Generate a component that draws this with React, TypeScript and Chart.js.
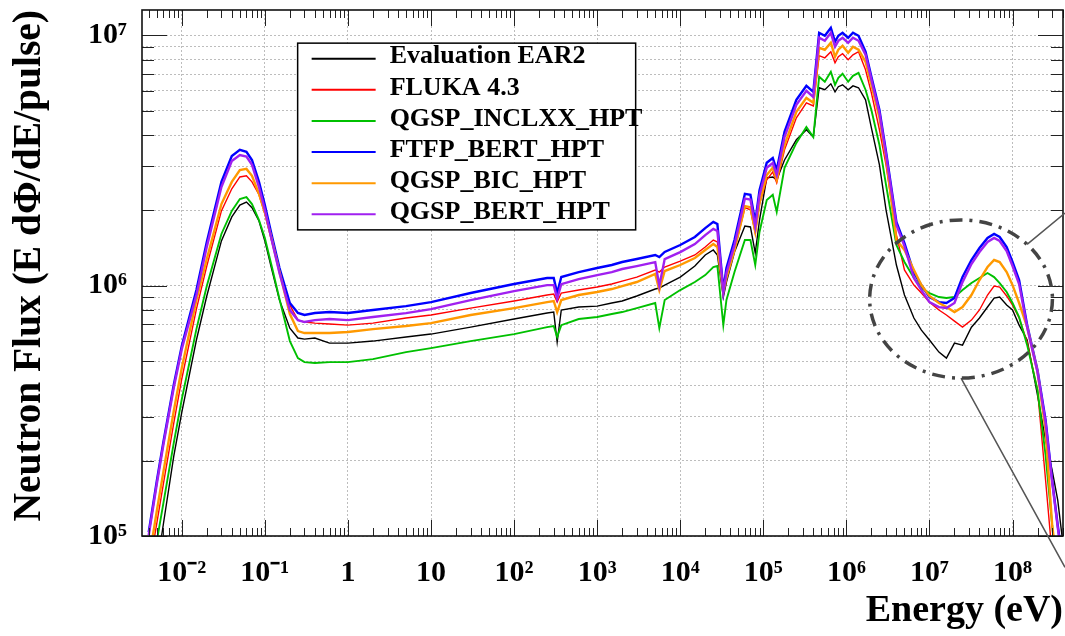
import React, { useEffect, useRef } from "react";
import { Chart, registerables } from "chart.js";

Chart.register(...registerables);

// ---------------- data ----------------
const energy = [
  0.004, 0.005, 0.006, 0.008, 0.01, 0.015, 0.02, 0.03, 0.04, 0.05,
  0.06, 0.07, 0.085, 0.1, 0.12, 0.15, 0.2, 0.25, 0.3, 0.4,
  0.6, 1, 2, 5, 10, 30, 100, 250, 300, 330,
  370, 600, 1000, 1500, 2000, 3000, 5000, 5600, 6500, 1e4,
  1.5e4, 2e4, 2.5e4, 2.8e4, 3.3e4, 3.6e4, 4.5e4, 6e4, 7e4, 8e4,
  9e4, 1.1e5, 1.3e5, 1.45e5, 1.8e5, 2.5e5, 3.3e5, 4.0e5, 4.7e5, 5.5e5,
  6.5e5, 7.3e5, 8e5, 9e5, 1.05e6, 1.2e6, 1.4e6, 1.7e6, 2e6, 2.5e6,
  3e6, 4e6, 5e6, 6.5e6, 8e6, 1e7, 1.3e7, 1.6e7, 2e7, 2.5e7,
  3.2e7, 4e7, 5e7, 6e7, 7e7, 8.5e7, 1e8, 1.2e8, 1.5e8, 2e8,
  2.5e8, 3e8, 3.5e8, 4e8,
];

const evaluationEAR2 = [
  4.52e4, 7.43e4, 1.114e5, 2.08e5, 3.12e5, 6.07e5, 9.10e5, 1.51e6, 1.883e6, 2.10e6,
  2.16e6, 2.05e6, 1.815e6, 1.51e6, 1.177e6, 8.77e5, 6.77e5, 6.18e5, 6.12e5, 6.18e5,
  5.90e5, 5.90e5, 6.01e5, 6.24e5, 6.41e5, 6.83e5, 7.36e5, 7.78e5, 7.85e5, 5.95e5,
  8.0e5, 8.22e5, 8.29e5, 8.53e5, 8.69e5, 9.10e5, 9.70e5, 9.79e5, 1.006e6, 1.083e6,
  1.199e6, 1.327e6, 1.39e6, 1.327e6, 9.01e5, 1.035e6, 1.364e6, 1.733e6, 1.717e6, 1.351e6,
  1.83e6, 2.70e6, 2.72e6, 2.65e6, 3.18e6, 3.83e6, 4.20e6, 3.93e6, 6.18e6, 6.07e6,
  6.41e6, 5.95e6, 6.24e6, 6.35e6, 6.07e6, 6.29e6, 6.18e6, 5.53e6, 4.27e6, 3.04e6,
  2.01e6, 1.21e6, 9.18e5, 7.43e5, 6.65e5, 6.07e5, 5.43e5, 5.14e5, 5.90e5, 5.79e5,
  6.83e5, 7.43e5, 8.22e5, 8.93e5, 9.01e5, 8.37e5, 8.0e5, 6.96e5, 6.07e5, 3.65e5,
  2.41e5, 1.83e5, 1.39e5, 9.61e4,
];

const fluka43 = [
  7.22e4, 1.124e5, 1.61e5, 2.82e5, 4.24e5, 8.07e5, 1.199e6, 1.99e6, 2.44e6, 2.72e6,
  2.75e6, 2.60e6, 2.31e6, 1.935e6, 1.523e6, 1.145e6, 8.37e5, 7.29e5, 7.16e5, 7.09e5,
  7.03e5, 6.96e5, 7.09e5, 7.43e5, 7.64e5, 8.14e5, 8.69e5, 9.18e5, 9.26e5, 8.60e5,
  9.35e5, 9.61e5, 9.88e5, 1.016e6, 1.044e6, 1.083e6, 1.156e6, 1.134e6, 1.188e6, 1.255e6,
  1.327e6, 1.428e6, 1.523e6, 1.496e6, 9.61e5, 1.134e6, 1.39e6, 2.05e6, 2.01e6, 1.625e6,
  2.12e6, 2.65e6, 2.85e6, 2.58e6, 3.49e6, 4.69e6, 5.38e6, 5.23e6, 8.30e6, 8.14e6,
  8.61e6, 7.78e6, 8.22e6, 8.45e6, 8.0e6, 8.37e6, 8.61e6, 7.29e6, 5.90e6, 4.20e6,
  3.04e6, 1.595e6, 1.156e6, 1.006e6, 9.35e5, 8.60e5, 8.0e5, 7.64e5, 7.22e5, 6.83e5,
  7.29e5, 8.0e5, 9.18e5, 9.97e5, 9.88e5, 9.10e5, 8.37e5, 7.43e5, 5.95e5, 3.83e5,
  1.67e5, 8.37e4, 5.53e4, 3.83e4,
];

const qgspInclxxHpt = [
  6.24e4, 9.52e4, 1.351e5, 2.35e5, 3.52e5, 6.71e5, 9.97e5, 1.61e6, 1.99e6, 2.22e6,
  2.26e6, 2.12e6, 1.83e6, 1.551e6, 1.21e6, 8.85e5, 6.01e5, 5.14e5, 4.95e5, 4.91e5,
  4.95e5, 4.95e5, 5.09e5, 5.43e5, 5.63e5, 6.01e5, 6.41e5, 6.83e5, 6.90e5, 6.24e5,
  6.96e5, 7.36e5, 7.50e5, 7.71e5, 7.85e5, 8.14e5, 8.53e5, 6.77e5, 8.77e5, 9.61e5,
  1.035e6, 1.103e6, 1.188e6, 1.199e6, 6.96e5, 8.77e5, 1.134e6, 1.523e6, 1.523e6, 1.21e6,
  1.64e6, 2.20e6, 2.31e6, 1.97e6, 2.96e6, 3.72e6, 4.31e6, 3.93e6, 6.84e6, 6.53e6,
  7.16e6, 6.35e6, 6.77e6, 7.03e6, 6.53e6, 6.90e6, 7.09e6, 6.07e6, 5.04e6, 3.65e6,
  2.53e6, 1.455e6, 1.244e6, 1.074e6, 9.79e5, 9.35e5, 9.01e5, 8.93e5, 9.01e5, 9.61e5,
  1.025e6, 1.074e6, 1.124e6, 1.083e6, 1.025e6, 9.44e5, 8.53e5, 7.50e5, 5.79e5, 3.83e5,
  2.10e5, 1.104e5, 6.65e4, 4.60e4,
];

const ftfpBertHpt = [
  1.035e5, 1.655e5, 2.37e5, 4.01e5, 5.74e5, 9.61e5, 1.496e6, 2.60e6, 3.30e6, 3.49e6,
  3.43e6, 3.18e6, 2.60e6, 2.10e6, 1.61e6, 1.177e6, 8.53e5, 7.78e5, 7.64e5, 7.78e5,
  7.85e5, 7.78e5, 8.0e5, 8.29e5, 8.60e5, 9.35e5, 1.016e6, 1.074e6, 1.074e6, 9.35e5,
  1.083e6, 1.134e6, 1.177e6, 1.21e6, 1.244e6, 1.279e6, 1.327e6, 1.302e6, 1.364e6, 1.455e6,
  1.566e6, 1.70e6, 1.80e6, 1.765e6, 9.61e5, 1.177e6, 1.523e6, 2.33e6, 2.31e6, 1.80e6,
  2.41e6, 3.10e6, 3.24e6, 2.90e6, 4.12e6, 5.53e6, 6.29e6, 5.95e6, 1.025e7, 9.97e6,
  1.073e7, 9.44e6, 9.97e6, 1.025e7, 9.79e6, 1.025e7, 9.97e6, 8.61e6, 6.84e6, 5.04e6,
  3.43e6, 1.80e6, 1.48e6, 1.124e6, 1.006e6, 9.01e5, 8.60e5, 8.53e5, 8.93e5, 1.083e6,
  1.267e6, 1.415e6, 1.551e6, 1.61e6, 1.566e6, 1.428e6, 1.244e6, 1.054e6, 6.96e5, 4.60e5,
  2.90e5, 1.67e5, 1.104e5, 8.0e4,
];

const qgspBicHpt = [
  7.92e4, 1.255e5, 1.80e5, 3.15e5, 4.69e5, 8.77e5, 1.279e6, 2.12e6, 2.60e6, 2.90e6,
  2.93e6, 2.75e6, 2.33e6, 1.97e6, 1.551e6, 1.134e6, 7.71e5, 6.59e5, 6.47e5, 6.47e5,
  6.47e5, 6.53e5, 6.71e5, 6.90e5, 7.09e5, 7.64e5, 8.14e5, 8.60e5, 8.69e5, 7.85e5,
  8.77e5, 9.18e5, 9.44e5, 9.70e5, 9.97e5, 1.035e6, 1.114e6, 9.61e5, 1.145e6, 1.21e6,
  1.29e6, 1.39e6, 1.468e6, 1.428e6, 9.44e5, 1.074e6, 1.39e6, 2.08e6, 2.06e6, 1.64e6,
  2.14e6, 2.77e6, 2.96e6, 2.65e6, 3.65e6, 4.95e6, 5.63e6, 5.38e6, 8.93e6, 8.77e6,
  9.35e6, 8.22e6, 8.77e6, 9.10e6, 8.53e6, 9.01e6, 8.77e6, 7.85e6, 6.35e6, 4.69e6,
  3.24e6, 1.523e6, 1.39e6, 1.156e6, 1.006e6, 9.10e5, 8.53e5, 8.22e5, 7.85e5, 8.22e5,
  9.18e5, 1.054e6, 1.188e6, 1.267e6, 1.244e6, 1.134e6, 1.006e6, 8.53e5, 6.83e5, 4.52e5,
  2.65e5, 1.104e5, 7.29e4, 5.53e4,
];

const qgspBertHpt = [
  1.007e5, 1.61e5, 2.31e5, 3.90e5, 5.58e5, 9.18e5, 1.43e6, 2.48e6, 3.15e6, 3.33e6,
  3.28e6, 3.04e6, 2.48e6, 2.01e6, 1.54e6, 1.124e6, 7.99e5, 7.29e5, 7.16e5, 7.29e5,
  7.36e5, 7.29e5, 7.50e5, 7.77e5, 8.06e5, 8.76e5, 9.52e5, 1.006e6, 1.006e6, 8.88e5,
  1.015e6, 1.063e6, 1.103e6, 1.134e6, 1.166e6, 1.198e6, 1.243e6, 1.0e6, 1.278e6, 1.363e6,
  1.467e6, 1.593e6, 1.687e6, 1.654e6, 9.42e5, 1.124e6, 1.454e6, 2.23e6, 2.21e6, 1.72e6,
  2.30e6, 2.96e6, 3.09e6, 2.77e6, 3.93e6, 5.28e6, 6.01e6, 5.68e6, 9.79e6, 9.52e6,
  1.025e7, 9.02e6, 9.52e6, 9.79e6, 9.35e6, 9.79e6, 9.52e6, 8.38e6, 6.66e6, 4.90e6,
  3.34e6, 1.75e6, 1.44e6, 1.073e6, 9.61e5, 8.60e5, 8.21e5, 8.15e5, 8.53e5, 1.034e6,
  1.221e6, 1.364e6, 1.495e6, 1.552e6, 1.510e6, 1.377e6, 1.199e6, 1.016e6, 6.82e5, 4.51e5,
  2.84e5, 1.64e5, 1.082e5, 7.84e4,
];

const seriesLabels = [
  "Evaluation EAR2",
  "FLUKA 4.3",
  "QGSP_INCLXX_HPT",
  "FTFP_BERT_HPT",
  "QGSP_BIC_HPT",
  "QGSP_BERT_HPT",
];
const seriesValues = [evaluationEAR2, fluka43, qgspInclxxHpt, ftfpBertHpt, qgspBicHpt, qgspBertHpt];
const seriesColors = ["#000000", "#ff0000", "#00c000", "#0000ff", "#ff9900", "#a020f0"];
const seriesWidths = [1.4, 1.4, 1.9, 2.4, 2.4, 2.4];

const xTitle = "Energy (eV)";
const yTitle = "Neutron Flux (E d\u03A6/dE/pulse)";
const xRange = [3.32e-3, 4.05e8];
const yRange = [1e5, 1.264e7];

// zoom annotation: ellipse in data coordinates, connectors towards an (off-page) inset
const zoomEllipse = { energy: 2.4e7, flux: 8.85e5, halfDecadesX: 1.1, halfDecadesY: 0.316 };
const zoomConnectors = [
  { angle: -0.763, energy: 4.28e8, flux: 1.95e6 },
  { angle: 1.571, energy: 4.28e8, flux: 7.5e4 },
];

// ---------------- helpers ----------------
const FONT = "'Liberation Serif', 'Times New Roman', serif";
const SUP: Record<string, string> = {
  "-": "\u207B", "0": "\u2070", "1": "\u00B9", "2": "\u00B2", "3": "\u00B3",
  "4": "\u2074", "5": "\u2075", "6": "\u2076", "7": "\u2077", "8": "\u2078", "9": "\u2079",
};

function decadeLabel(v: number): string {
  const l = Math.log10(v);
  const r = Math.round(l);
  if (Math.abs(l - r) > 1e-6) return "";
  if (r === 0) return "1";
  if (r === 1) return "10";
  return "10" + String(r).split("").map((c) => SUP[c]).join("");
}

function logTicks(min: number, max: number) {
  const ticks: { value: number; major: boolean }[] = [];
  const e0 = Math.floor(Math.log10(min));
  const e1 = Math.ceil(Math.log10(max));
  for (let e = e0; e <= e1; e++) {
    for (let s = 1; s <= 9; s++) {
      const v = Number((s * Math.pow(10, e)).toPrecision(12));
      if (v >= min * (1 - 1e-9) && v <= max * (1 + 1e-9)) ticks.push({ value: v, major: s === 1 });
    }
  }
  return ticks;
}

const framePlugin = {
  id: "rootFrame",
  afterDatasetsDraw(chart: any) {
    const { ctx, chartArea: a, scales } = chart;
    const xs = scales.x;
    const ys = scales.y;
    ctx.save();
    ctx.strokeStyle = "#222";
    ctx.lineWidth = 1;
    ctx.beginPath();
    for (const t of xs.ticks) {
      const px = Math.round(xs.getPixelForValue(t.value)) + 0.5;
      const len = t.major ? 16 : 8;
      ctx.moveTo(px, a.bottom);
      ctx.lineTo(px, a.bottom - len);
      ctx.moveTo(px, a.top);
      ctx.lineTo(px, a.top + len);
    }
    for (const t of ys.ticks) {
      const py = Math.round(ys.getPixelForValue(t.value)) + 0.5;
      const len = t.major ? 25 : 12;
      ctx.moveTo(a.left, py);
      ctx.lineTo(a.left + len, py);
      ctx.moveTo(a.right, py);
      ctx.lineTo(a.right - len, py);
    }
    ctx.stroke();
    ctx.lineWidth = 1.6;
    ctx.strokeStyle = "#111";
    ctx.strokeRect(a.left, a.top, a.right - a.left, a.bottom - a.top);

    // legend
    const w = a.right - a.left;
    const h = a.bottom - a.top;
    const L = a.left + 0.169 * w;
    const T = a.top + 0.063 * h;
    const R = a.left + 0.536 * w;
    const B = a.top + 0.418 * h;
    ctx.fillStyle = "#fff";
    ctx.fillRect(L, T, R - L, B - T);
    ctx.lineWidth = 1.5;
    ctx.strokeStyle = "#000";
    ctx.strokeRect(L, T, R - L, B - T);
    const ds = chart.data.datasets;
    const rowH = (B - T) / ds.length;
    ctx.font = `bold 26px ${FONT}`;
    ctx.textBaseline = "middle";
    ctx.textAlign = "left";
    ds.forEach((d: any, i: number) => {
      const cy = T + rowH * (i + 0.5);
      ctx.strokeStyle = d.borderColor;
      ctx.lineWidth = 2;
      ctx.beginPath();
      ctx.moveTo(L + 14, cy);
      ctx.lineTo(L + 78, cy);
      ctx.stroke();
      ctx.fillStyle = "#000";
      ctx.fillText(d.label, L + 92, cy - 2);
    });
    ctx.restore();
  },
  afterDraw(chart: any) {
    const { ctx, scales } = chart;
    const xs = scales.x;
    const ys = scales.y;
    const cx = xs.getPixelForValue(zoomEllipse.energy);
    const cy = ys.getPixelForValue(zoomEllipse.flux);
    const rx = xs.getPixelForValue(zoomEllipse.energy * Math.pow(10, zoomEllipse.halfDecadesX)) - cx;
    const ry = cy - ys.getPixelForValue(zoomEllipse.flux * Math.pow(10, zoomEllipse.halfDecadesY));
    ctx.save();
    ctx.strokeStyle = "#555";
    ctx.lineWidth = 1.5;
    ctx.beginPath();
    for (const c of zoomConnectors) {
      ctx.moveTo(cx + rx * Math.cos(c.angle), cy + ry * Math.sin(c.angle));
      ctx.lineTo(xs.getPixelForValue(c.energy), ys.getPixelForValue(c.flux));
    }
    ctx.stroke();
    ctx.strokeStyle = "#444";
    ctx.lineWidth = 3.5;
    ctx.setLineDash([13, 7, 3, 7]);
    ctx.beginPath();
    ctx.ellipse(cx, cy, rx, ry, 0, 0, Math.PI * 2);
    ctx.stroke();
    ctx.restore();
  },
};

export default function App() {
  const ref = useRef<HTMLCanvasElement | null>(null);

  useEffect(() => {
    if (!ref.current) return;
    const datasets = seriesLabels.map((label, i) => ({
      label,
      data: energy.map((e, k) => ({ x: e, y: seriesValues[i][k] })),
      borderColor: seriesColors[i],
      backgroundColor: seriesColors[i],
      borderWidth: seriesWidths[i],
      pointRadius: 0,
      tension: 0,
      fill: false,
      order: seriesLabels.length - i,
    }));

    const chart = new Chart(ref.current, {
      type: "line",
      data: { datasets },
      options: {
        animation: false,
        responsive: false,
        devicePixelRatio: 1,
        layout: { padding: { left: 0, right: 2, top: 10, bottom: 0 } },
        plugins: { legend: { display: false }, tooltip: { enabled: false } },
        scales: {
          x: {
            type: "logarithmic",
            min: xRange[0],
            max: xRange[1],
            afterBuildTicks: (s: any) => {
              s.ticks = logTicks(s.min, s.max);
            },
            afterFit: (s: any) => {
              s.height = 100;
              s.paddingLeft = 0;
              s.paddingRight = 0;
            },
            ticks: {
              autoSkip: false,
              maxRotation: 0,
              minRotation: 0,
              padding: 19,
              color: "#000",
              font: { family: FONT, size: 30, weight: "bold" },
              callback: (v: any) => decadeLabel(Number(v)),
            },
            grid: {
              drawTicks: false,
              lineWidth: 1,
              color: (c: any) => (c.tick && c.tick.major ? "#bdbdbd" : "rgba(0,0,0,0)"),
            },
            border: { display: false, dash: [2, 2] },
            title: {
              display: true,
              text: xTitle,
              align: "end",
              color: "#000",
              font: { family: FONT, size: 38, weight: "bold" },
              padding: { top: 0, bottom: 2 },
            },
          },
          y: {
            type: "logarithmic",
            min: yRange[0],
            max: yRange[1],
            afterBuildTicks: (s: any) => {
              s.ticks = logTicks(s.min, s.max);
            },
            afterFit: (s: any) => {
              s.width = 142;
              s.paddingTop = 0;
              s.paddingBottom = 0;
            },
            ticks: {
              autoSkip: false,
              padding: 15,
              color: "#000",
              font: { family: FONT, size: 30, weight: "bold" },
              callback: (v: any) => decadeLabel(Number(v)),
            },
            grid: { drawTicks: false, lineWidth: 1, color: "#bdbdbd" },
            border: { display: false, dash: [2, 2] },
            title: {
              display: true,
              text: yTitle,
              align: "end",
              color: "#000",
              font: { family: FONT, size: 39.5, weight: "bold" },
              padding: { top: 6, bottom: 0 },
            },
          },
        },
      },
      plugins: [framePlugin],
    } as any);
    return () => chart.destroy();
  }, []);

  return (
    <div style={{ position: "absolute", left: 0, top: 0, width: 1065, height: 636, background: "#fff" }}>
      <canvas ref={ref} width={1065} height={636} style={{ display: "block" }} />
    </div>
  );
}
